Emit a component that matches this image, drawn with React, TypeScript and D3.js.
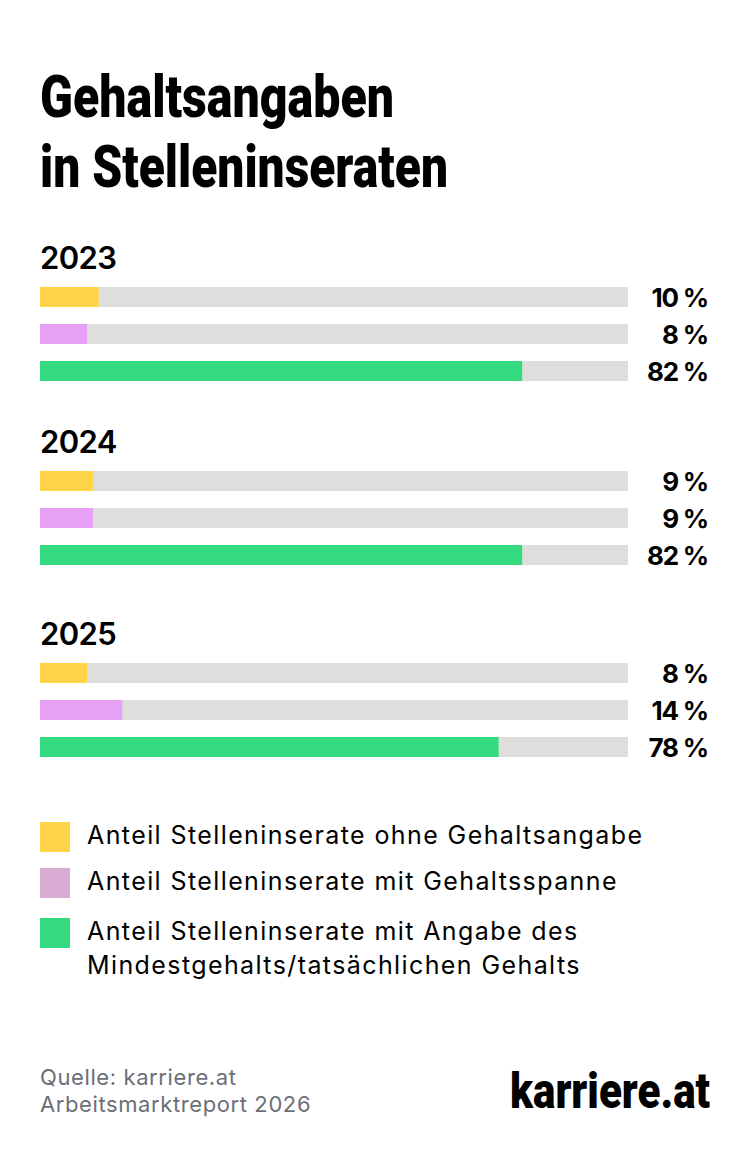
// @ts-nocheck
import React, { useEffect, useRef } from "react";
import * as d3 from "d3";

const years = ["2023", "2024", "2025"];
const seriesNames = [
  "Anteil Stelleninserate ohne Gehaltsangabe",
  "Anteil Stelleninserate mit Gehaltsspanne",
  "Anteil Stelleninserate mit Angabe des Mindestgehalts/tatsächlichen Gehalts",
];
const ohneGehalt = [10, 9, 8];
const gehaltsspanne = [8, 9, 14];
const mindestgehalt = [82, 82, 78];

const barColors = ["#FFD449", "#E6A0F5", "#34DA7F"];
const legendColors = ["#FFD449", "#D8ABD3", "#34DA7F"];

const App = () => {
  const svgRef = useRef();

  useEffect(() => {
    document.body.style.margin = "0";
    const W = 750;
    const H = 1159;
    const svg = d3.select(svgRef.current);
    svg.selectAll("*").remove();
    svg.attr("width", W).attr("height", H).style("display", "block");

    svg.append("rect").attr("width", W).attr("height", H).attr("fill", "#fff");

    const sans = "Inter, 'Noto Sans', sans-serif";
    const cond = "Roboto, 'Liberation Sans', sans-serif";

    // title
    const title = [
      { t: "Gehaltsangaben", y: 117, w: 354 },
      { t: "in Stelleninseraten", y: 187, w: 408 },
    ];
    svg
      .selectAll(".title")
      .data(title)
      .enter()
      .append("text")
      .attr("x", 40)
      .attr("y", (d) => d.y)
      .attr("textLength", (d) => d.w)
      .attr("lengthAdjust", "spacingAndGlyphs")
      .style("font-family", cond)
      .style("font-weight", 900)
      .style("font-size", "60px")
      .style("fill", "#000")
      .text((d) => d.t);

    const x = d3.scaleLinear().domain([0, 100]).range([40, 628]);
    const groupTop = d3.scaleOrdinal().domain(years).range([287, 471, 663]);
    const row = d3.scaleBand().domain([0, 1, 2]).range([0, 94]).paddingInner(17 / 37);

    years.forEach((yr, i) => {
      const top = groupTop(yr);
      const vals = [ohneGehalt[i], gehaltsspanne[i], mindestgehalt[i]];
      const g = svg.append("g").attr("transform", `translate(0,${top})`);

      svg
        .append("text")
        .attr("x", 40)
        .attr("y", top - 18)
        .style("font-family", sans)
        .style("font-weight", 600)
        .style("font-size", "31px")
        .style("letter-spacing", "-0.6px")
        .style("fill", "#000")
        .text(yr);

      g.selectAll(".bg")
        .data(vals)
        .enter()
        .append("rect")
        .attr("x", x(0))
        .attr("y", (d, j) => row(j))
        .attr("width", x(100) - x(0))
        .attr("height", row.bandwidth())
        .attr("fill", "#DEDFDC");

      g.selectAll(".bar")
        .data(vals)
        .enter()
        .append("rect")
        .attr("x", x(0))
        .attr("y", (d, j) => row(j))
        .attr("width", (d) => x(d) - x(0))
        .attr("height", row.bandwidth())
        .attr("fill", (d, j) => barColors[j]);

      g.selectAll(".lbl")
        .data(vals)
        .enter()
        .append("text")
        .attr("x", 708)
        .attr("y", (d, j) => row(j) + row.bandwidth() - 0.5)
        .attr("text-anchor", "end")
        .style("font-family", sans)
        .style("font-weight", 700)
        .style("font-size", "26px")
        .style("letter-spacing", "-1.2px")
        .style("fill", "#000")
        .text((d) => `${d} %`);
    });

    // legend
    const legendRows = [
      { top: 822, lines: [seriesNames[0]] },
      { top: 868, lines: [seriesNames[1]] },
      {
        top: 918,
        lines: ["Anteil Stelleninserate mit Angabe des", "Mindestgehalts/tatsächlichen Gehalts"],
      },
    ];
    legendRows.forEach((r, i) => {
      svg
        .append("rect")
        .attr("x", 40)
        .attr("y", r.top)
        .attr("width", 30)
        .attr("height", 30)
        .attr("fill", legendColors[i]);
      r.lines.forEach((ln, k) => {
        svg
          .append("text")
          .attr("x", 87)
          .attr("y", r.top + 22 + k * 34)
          .style("font-family", sans)
          .style("font-weight", 400)
          .style("font-size", "25px")
          .style("letter-spacing", "1.4px")
          .style("fill", "#000")
          .text(ln);
      });
    });

    // footer
    ["Quelle: karriere.at", "Arbeitsmarktreport 2026"].forEach((t, k) => {
      svg
        .append("text")
        .attr("x", 40)
        .attr("y", 1085 + k * 27)
        .style("font-family", sans)
        .style("font-size", "22px")
        .style("letter-spacing", "0.6px")
        .style("fill", "#6B6F78")
        .text(t);
    });

    svg
      .append("text")
      .attr("x", 510)
      .attr("y", 1108)
      .attr("textLength", 200)
      .attr("lengthAdjust", "spacingAndGlyphs")
      .style("font-family", cond)
      .style("font-weight", 900)
      .style("font-size", "50px")
      .style("fill", "#000")
      .text("karriere.at");
  }, []);

  return <svg ref={svgRef}></svg>;
};

export default App;
